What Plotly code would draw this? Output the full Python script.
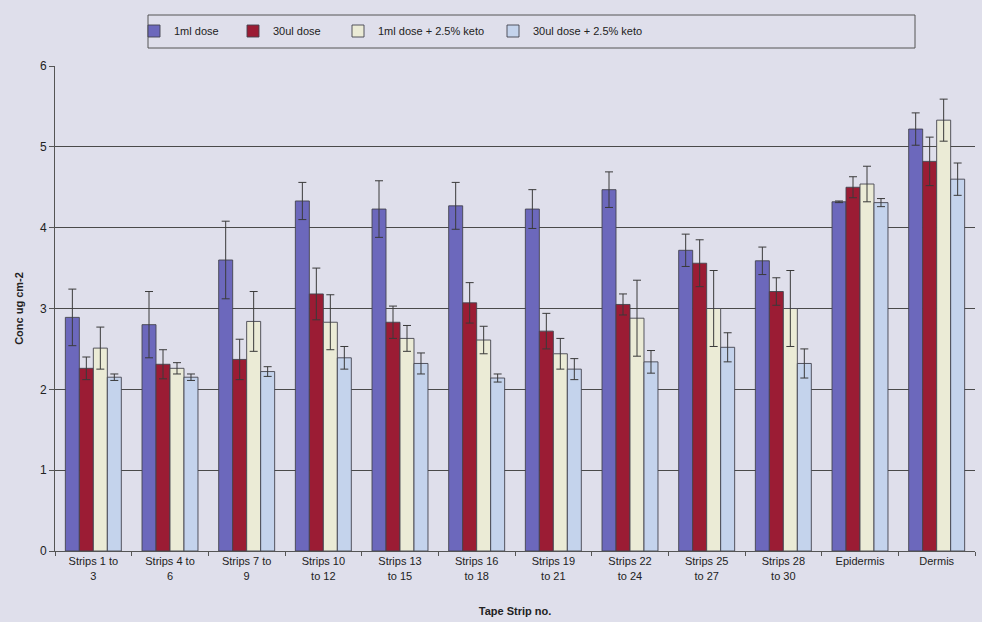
import plotly.graph_objects as go

categories = ["Strips 1 to<br>3", "Strips 4 to<br>6", "Strips 7 to<br>9", "Strips 10<br>to 12",
              "Strips 13<br>to 15", "Strips 16<br>to 18", "Strips 19<br>to 21", "Strips 22<br>to 24",
              "Strips 25<br>to 27", "Strips 28<br>to 30", "Epidermis", "Dermis"]

series_names = ["1ml dose", "30ul dose", "1ml dose + 2.5% keto", "30ul dose + 2.5% keto"]

dose_1ml = [2.89, 2.80, 3.60, 4.33, 4.23, 4.27, 4.23, 4.47, 3.72, 3.59, 4.32, 5.22]
dose_1ml_err = [0.35, 0.41, 0.48, 0.23, 0.35, 0.29, 0.24, 0.22, 0.20, 0.17, 0.01, 0.20]

dose_30ul = [2.26, 2.31, 2.37, 3.18, 2.83, 3.07, 2.72, 3.05, 3.56, 3.21, 4.50, 4.82]
dose_30ul_err = [0.14, 0.18, 0.25, 0.32, 0.20, 0.25, 0.22, 0.13, 0.29, 0.17, 0.13, 0.30]

dose_1ml_keto = [2.51, 2.26, 2.84, 2.83, 2.63, 2.61, 2.44, 2.88, 3.00, 3.00, 4.54, 5.33]
dose_1ml_keto_err = [0.26, 0.07, 0.37, 0.34, 0.16, 0.17, 0.19, 0.47, 0.47, 0.47, 0.22, 0.26]

dose_30ul_keto = [2.15, 2.15, 2.22, 2.39, 2.32, 2.14, 2.25, 2.34, 2.52, 2.32, 4.31, 4.60]
dose_30ul_keto_err = [0.04, 0.04, 0.06, 0.14, 0.13, 0.05, 0.13, 0.14, 0.18, 0.18, 0.05, 0.20]

y_ticks = [0, 1, 2, 3, 4, 5, 6]

values = [dose_1ml, dose_30ul, dose_1ml_keto, dose_30ul_keto]
errors = [dose_1ml_err, dose_30ul_err, dose_1ml_keto_err, dose_30ul_keto_err]
colors = ["#6c68bc", "#9b1c34", "#ebebd6", "#c4d3ec"]
legend_ids = ["legend", "legend2", "legend3", "legend4"]

BG = "#dfdfeb"
FONT = "Liberation Sans, Arial, sans-serif"

fig = go.Figure()
for name, vals, errs, col, lg in zip(series_names, values, errors, colors, legend_ids):
    fig.add_trace(go.Bar(
        x=categories, y=vals, name=name, legend=lg,
        marker=dict(color=col, line=dict(color="#44444e", width=0.9)),
        error_y=dict(type="data", array=errs, visible=True, color="#3a3a3a",
                     thickness=1, width=4),
    ))

# Plot area in pixels: x 55..975, y 66..551
def px_x(p):
    return (p - 55) / 920.0

def px_y(p):
    return (551 - p) / 485.0

legend_text_px = [176, 275, 380, 535]
leg_common = dict(orientation="h", yanchor="middle", y=px_y(31), xanchor="left",
                  bgcolor="rgba(0,0,0,0)", borderwidth=0,
                  font=dict(family=FONT, size=11, color="#222222"),
                  itemwidth=30)
layout_legends = {}
for lg, tx in zip(legend_ids, legend_text_px):
    layout_legends[lg] = dict(leg_common, x=px_x(tx - 42))

fig.update_layout(
    width=982, height=622,
    margin=dict(l=55, r=7, t=66, b=71),
    paper_bgcolor=BG, plot_bgcolor=BG,
    barmode="group", bargap=0.27, bargroupgap=0.0,
    showlegend=True,
    font=dict(family=FONT, size=11, color="#222222"),
    **layout_legends,
    xaxis=dict(
        showgrid=False, ticks="outside", tickson="boundaries", ticklen=4,
        tickcolor="#555555", showline=True, linecolor="#555555", linewidth=1,
        tickfont=dict(family=FONT, size=11, color="#222222"),
        title=dict(text="<b>Tape Strip no.</b>", font=dict(family=FONT, size=11, color="#222222"),
                   standoff=26),
    ),
    yaxis=dict(
        range=[0, 6], tickvals=y_ticks, ticks="outside", ticklen=5, tickcolor="#555555",
        showgrid=True, gridcolor="#4a4a4a", gridwidth=1,
        showline=True, linecolor="#555555", linewidth=1,
        zeroline=False,
        tickfont=dict(family=FONT, size=12, color="#222222"),
        title=dict(text="<b>Conc ug cm-2</b>", font=dict(family=FONT, size=11, color="#222222"),
                   standoff=14),
    ),
    shapes=[dict(type="rect", xref="paper", yref="paper",
                 x0=px_x(148), x1=px_x(915), y0=px_y(48), y1=px_y(15),
                 line=dict(color="#555555", width=1), fillcolor="rgba(0,0,0,0)")],
)

fig.write_html("out.html", config={"displayModeBar": False})

# remove default page margins so the figure fills the window exactly
with open("out.html", "r", encoding="utf-8") as f:
    html = f.read()
html = html.replace("<head>", "<head><style>html,body{margin:0;padding:0;background:%s;overflow:hidden;}</style>" % BG, 1)
with open("out.html", "w", encoding="utf-8") as f:
    f.write(html)
